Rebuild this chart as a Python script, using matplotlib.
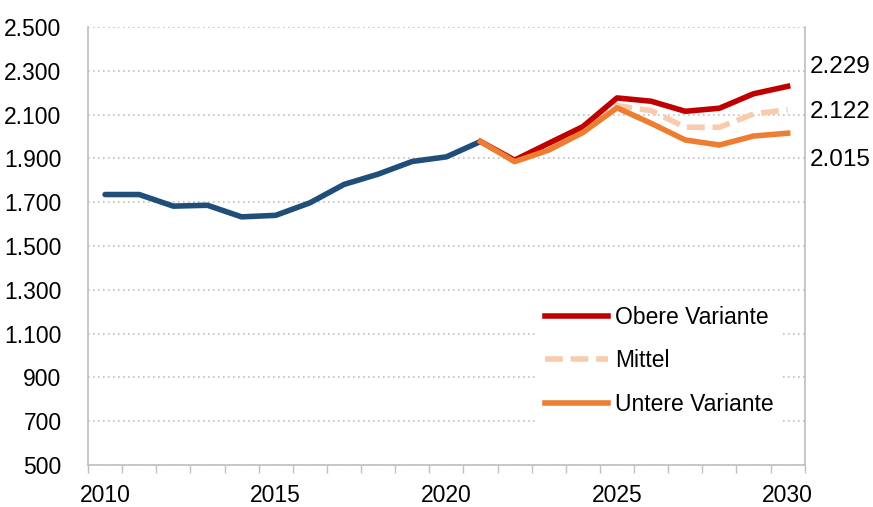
import matplotlib
matplotlib.use("Agg")
import matplotlib.pyplot as plt
from matplotlib.ticker import FuncFormatter
import numpy as np

plt.rcParams['font.family'] = ['Liberation Sans Narrow', 'Liberation Sans', 'DejaVu Sans']

# historische Werte
years_hist = [2010, 2011, 2012, 2013, 2014, 2015, 2016, 2017, 2018, 2019, 2020, 2021]
hist = [1735, 1735, 1682, 1686, 1633, 1640, 1697, 1781, 1828, 1886, 1907, 1977]

# Varianten ab 2021
years_proj = [2021, 2022, 2023, 2024, 2025, 2026, 2027, 2028, 2029, 2030]
obere = [1977, 1892, 1969, 2045, 2176, 2161, 2115, 2129, 2195, 2229]
mittel = [1977, 1889, 1962, 2036, 2141, 2118, 2042, 2042, 2103, 2122]
untere = [1977, 1885, 1938, 2018, 2131, 2060, 1984, 1961, 2002, 2015]

end_labels = ['2.229', '2.122', '2.015']
end_label_y = [2316, 2110, 1891]  # Position der Beschriftung rechts

c_blue = '#1F4E79'
c_red = '#C00000'
c_mid = '#F8CBAD'
c_orange = '#ED7D31'
grid_c = '#BFBFBF'
fs = 16.5

fig = plt.figure(figsize=(8.73, 5.07), dpi=100)
ax = fig.add_axes([0.1008, 0.0828, 0.821, 0.864])

ax.plot(years_hist, hist, color=c_blue, lw=4, solid_capstyle='round', zorder=3)
ax.plot(years_proj, mittel, color=c_mid, lw=4, ls=(0, (3.2, 1.4)), label='Mittel', zorder=3)
ax.plot(years_proj, obere, color=c_red, lw=4, label='Obere Variante', zorder=4)
ax.plot(years_proj, untere, color=c_orange, lw=4, label='Untere Variante', zorder=5)

ax.set_xlim(2009.5, 2030.5)
ax.set_ylim(500, 2500)
ax.set_yticks(np.arange(500, 2501, 200))
ax.yaxis.set_major_formatter(FuncFormatter(lambda v, p: '{:,.0f}'.format(v).replace(',', '.')))
ax.set_xticks([2010, 2015, 2020, 2025, 2030])
ax.set_xticks(np.arange(2009.5, 2031, 1), minor=True)
ax.tick_params(axis='x', which='major', length=0, pad=14, labelsize=fs)
ax.tick_params(axis='x', which='minor', length=6, color=grid_c, width=1)
ax.tick_params(axis='y', length=0, pad=19, labelsize=fs)

ax.grid(axis='y', color=grid_c, ls=(0, (1, 2)), lw=1.2)
ax.set_axisbelow(True)
ax.spines['top'].set_visible(False)
for s in ['left', 'bottom', 'right']:
    ax.spines[s].set_color(grid_c)
    ax.spines[s].set_linewidth(1.2)

for txt, yv in zip(end_labels, end_label_y):
    ax.text(2030.65, yv, txt, fontsize=fs + 1, ha='left', va='center', clip_on=False)

h, l = ax.get_legend_handles_labels()
order = [1, 0, 2]
leg = ax.legend([h[i] for i in order], [l[i] for i in order], loc='upper left',
                bbox_to_anchor=(0.625, 0.385), borderaxespad=0, fontsize=fs,
                handlelength=2.75, handletextpad=0.3, labelspacing=0.9,
                frameon=True, fancybox=False)
leg.get_frame().set_facecolor('white')
leg.get_frame().set_edgecolor('none')
leg.get_frame().set_alpha(1)

fig.savefig('out.png', dpi=100)
